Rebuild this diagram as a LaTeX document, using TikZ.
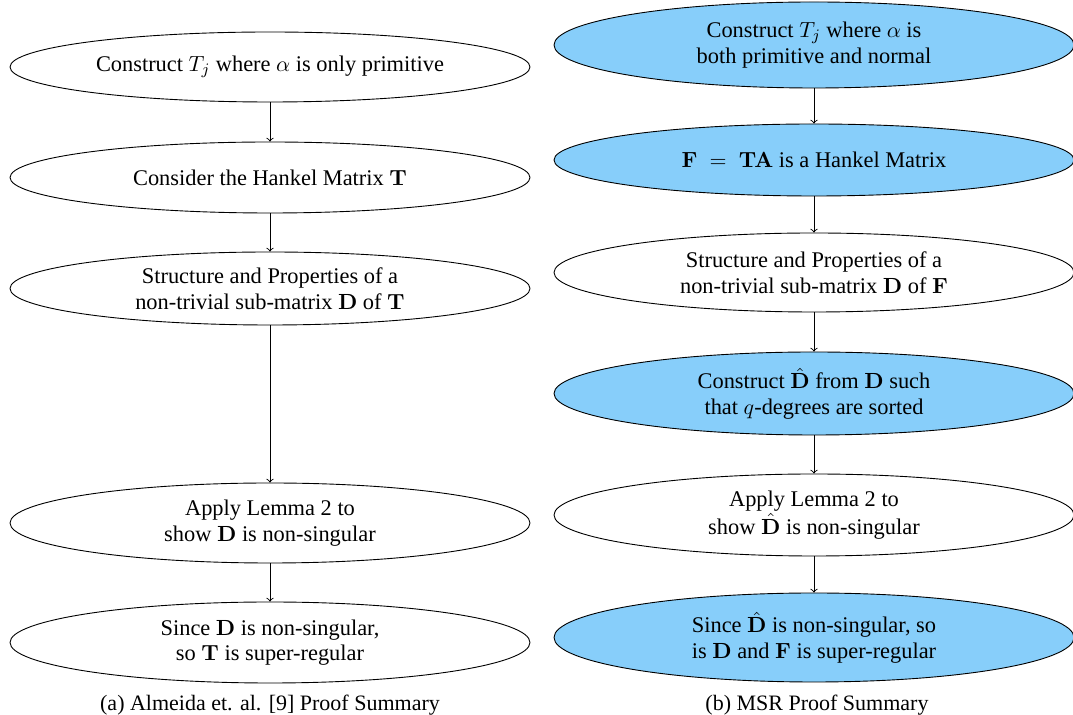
\documentclass[tikz,border=0pt]{standalone}
\usepackage[no-math]{fontspec}
\setmainfont{Liberation Serif}
\usetikzlibrary{shapes.geometric}
\definecolor{skyfill}{RGB}{135,206,250}
\tikzset{
  stepnode/.style={ellipse, draw, line width=0.45pt, inner sep=0pt, align=center,
    font=\fontsize{11.2}{12.8}\selectfont, minimum width=260pt},
  bluenode/.style={stepnode, fill=skyfill},
  flow/.style={->, line width=0.45pt},
  capt/.style={font=\fontsize{11}{13}\selectfont, inner sep=0pt}
}
\begin{document}
\begin{tikzpicture}[x=0.5pt,y=-0.5pt]
\useasboundingbox (0,0) rectangle (1073,715);
% left column
\node[stepnode, minimum height=35pt] (L1) at (270,67) {Construct $T_j$ where $\alpha$ is only primitive};
\node[stepnode, minimum height=35.5pt] (L2) at (270,177.5) {Consider the Hankel Matrix $\mathbf{T}$};
\node[stepnode, minimum height=36.5pt] (L3) at (270,288.5) {Structure and Properties of a\\non-trivial sub-matrix $\mathbf{D}$ of $\mathbf{T}$};
\node[stepnode, minimum height=40pt] (L4) at (270,523) {Apply Lemma 2 to\\show $\mathbf{D}$ is non-singular};
\node[stepnode, minimum height=40.5pt] (L5) at (270,642.5) {Since $\mathbf{D}$ is non-singular,\\so $\mathbf{T}$ is super-regular};
\draw[flow] (L1) -- (L2);
\draw[flow] (L2) -- (L3);
\draw[flow] (L3) -- (L4);
\draw[flow] (L4) -- (L5);
\node[capt] (CA) at (270,705) {(a) Almeida et. al. [9] Proof Summary};
% right column
\node[bluenode, minimum height=43pt] (R1) at (814,45) {Construct $T_j$ where $\alpha$ is\\both primitive and normal};
\node[bluenode, minimum height=36pt] (R2) at (814,160) {$\mathbf{F} \;=\; \mathbf{TA}$ is a Hankel Matrix};
\node[stepnode, minimum height=39.5pt] (R3) at (814,272.5) {Structure and Properties of a\\non-trivial sub-matrix $\mathbf{D}$ of $\mathbf{F}$};
\node[bluenode, minimum height=41.5pt] (R4) at (814,393.5) {Construct $\hat{\mathbf{D}}$ from $\mathbf{D}$ such\\that $q$-degrees are sorted};
\node[stepnode, minimum height=41pt] (R5) at (814,515) {Apply Lemma 2 to\\show $\hat{\mathbf{D}}$ is non-singular};
\node[bluenode, minimum height=44.5pt] (R6) at (814,637.5) {Since $\hat{\mathbf{D}}$ is non-singular, so\\is $\mathbf{D}$ and $\mathbf{F}$ is super-regular};
\draw[flow] (R1) -- (R2);
\draw[flow] (R2) -- (R3);
\draw[flow] (R3) -- (R4);
\draw[flow] (R4) -- (R5);
\draw[flow] (R5) -- (R6);
\node[capt] (CB) at (817,705) {(b) MSR Proof Summary};
\end{tikzpicture}
\end{document}
